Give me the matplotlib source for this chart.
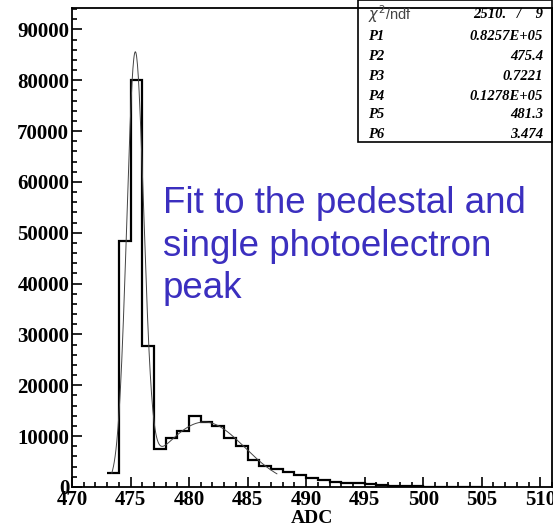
import numpy as np
import matplotlib.pyplot as plt
from matplotlib.ticker import MultipleLocator
from matplotlib.patches import Rectangle

# histogram contents, 1 ADC per bin starting at 473
bin_start = 473
counts = [2700, 48400, 80000, 27700, 7470, 9580, 11000, 14000, 12840, 12050,
          9700, 8060, 5300, 4200, 3480, 2900, 2360, 1830, 1380, 1040,
          850, 730, 530, 390, 220, 150, 100, 70, 50, 30, 20, 10]

# fit parameters (double gaussian) shown in the stats box
P1, P2, P3 = 0.8257e5, 475.4, 0.7221
P4, P5, P6 = 0.1278e5, 481.3, 3.474
fit_range = (473.4, 487.5)

stat_names = ["P1", "P2", "P3", "P4", "P5", "P6"]
stat_values = ["0.8257E+05", "475.4", "0.7221", "0.1278E+05", "481.3", "3.474"]
chi2_text = "2510.   /    9"
note_lines = ["Fit to the pedestal and", "single photoelectron", "peak"]

serif = "Liberation Serif"
sans = "Liberation Sans"

fig = plt.figure(figsize=(5.53, 5.32), dpi=100)
ax = fig.add_axes([72/553, 45/532, 480/553, 479/532])

edges = np.arange(bin_start, bin_start + len(counts) + 1)
ax.stairs(counts, edges, color="black", lw=1.6, baseline=None)

xf = np.linspace(fit_range[0], fit_range[1], 400)
yf = P1*np.exp(-0.5*((xf-P2)/P3)**2) + P4*np.exp(-0.5*((xf-P5)/P6)**2)
ax.plot(xf, yf, color="#444444", lw=0.7)

ax.set_xlim(470, 511)
ax.set_ylim(0, 94200)
ax.xaxis.set_major_locator(MultipleLocator(5))
ax.xaxis.set_minor_locator(MultipleLocator(1))
ax.yaxis.set_major_locator(MultipleLocator(10000))
ax.yaxis.set_minor_locator(MultipleLocator(2000))
ax.tick_params(which="both", direction="in", width=1.2, top=False, right=False)
ax.tick_params(which="major", length=7, pad=2)
ax.tick_params(which="minor", length=3.5)
for lab in ax.get_xticklabels() + ax.get_yticklabels():
    lab.set_fontfamily(serif)
    lab.set_fontweight("bold")
    lab.set_fontsize(15)
for s in ax.spines.values():
    s.set_linewidth(1.3)

ax.set_xlabel("ADC", fontfamily=serif, fontweight="bold", fontsize=14, labelpad=0)

for line, yb in zip(note_lines, [213, 256, 298]):
    fig.text(163/553, 1 - yb/532, line, color="#3B2FBF", fontfamily=sans,
             fontsize=26.5, va="baseline")

# stats box
fig.patches.append(Rectangle((358/553, 1 - 142/532), 194/553, 142/532,
                             transform=fig.transFigure, fill=False,
                             edgecolor="black", lw=1.2))
row_y = [14, 36, 56, 77, 96, 115, 134]
fig.text(368/553, 1 - row_y[0]/532, r"$\chi^{2}$/ndf", fontfamily=sans,
         fontsize=10.5, color="#444444", va="center")
fig.text(543/553, 1 - row_y[0]/532, chi2_text, fontfamily=serif,
         fontweight="bold", style="italic", fontsize=10.5, ha="right", va="center")
for name, val, yy in zip(stat_names, stat_values, row_y[1:]):
    fig.text(368/553, 1 - yy/532, name, fontfamily=serif, fontweight="bold",
             style="italic", fontsize=10.5, va="center")
    fig.text(543/553, 1 - yy/532, val, fontfamily=serif, fontweight="bold",
             style="italic", fontsize=10.5, ha="right", va="center")

fig.savefig("out.png", dpi=100)
